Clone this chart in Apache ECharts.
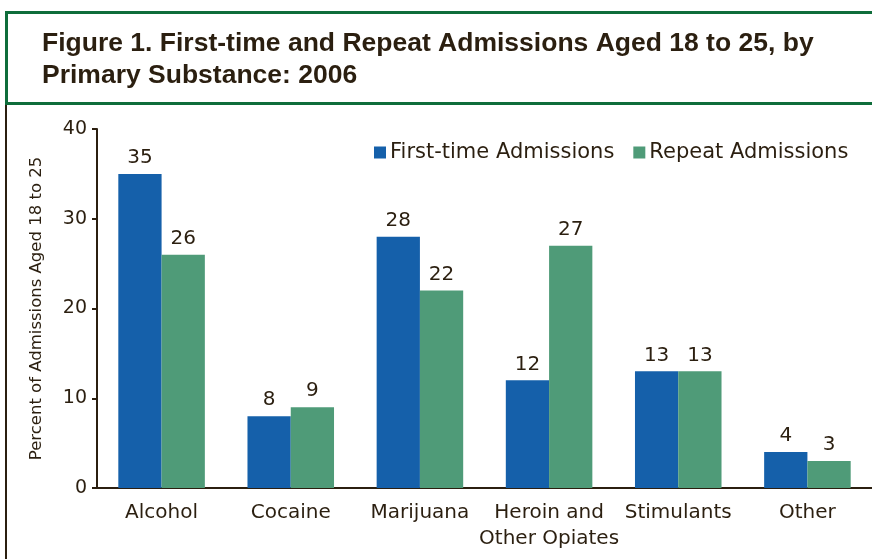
<!DOCTYPE html>
<html>
<head>
<meta charset="utf-8">
<title>First-time and Repeat Admissions Aged 18 to 25</title>
<script src="https://cdn.jsdelivr.net/npm/echarts@6/dist/echarts.min.js"></script>
<style>
  html, body { margin: 0; padding: 0; background: #ffffff; }
  #chart { width: 872px; height: 559px; }
</style>
</head>
<body>
<div id="chart"></div>
<script>
// Primary substance categories
const categories = ['Alcohol', 'Cocaine', 'Marijuana', 'Heroin and\nOther Opiates', 'Stimulants', 'Other'];
// Percent of admissions aged 18 to 25
const firstTime = [35, 8, 28, 12, 13, 4];
const repeat = [26, 9, 22, 27, 13, 3];
const yTicks = { min: 0, max: 40, interval: 10 };

const ink = '#2b1f10';
const frameGreen = '#0f6d3b';
const labelFont = 'DejaVu Sans';

const chart = echarts.init(document.getElementById('chart'), null, { renderer: 'canvas' });

chart.setOption({
  animation: false,
  backgroundColor: '#ffffff',
  title: {
    text: 'Figure 1. First-time and Repeat Admissions Aged 18 to 25, by\nPrimary Substance: 2006',
    left: 37,
    top: 23,
    textStyle: {
      fontFamily: 'Liberation Sans',
      fontWeight: 'bold',
      fontSize: 26.5,
      lineHeight: 32,
      color: ink
    }
  },
  graphic: [
    { type: 'rect', shape: { x: 5, y: 11, width: 870, height: 3 }, style: { fill: frameGreen }, silent: true },
    { type: 'rect', shape: { x: 5, y: 102, width: 870, height: 3 }, style: { fill: frameGreen }, silent: true },
    { type: 'rect', shape: { x: 5, y: 11, width: 3, height: 94 }, style: { fill: frameGreen }, silent: true },
    { type: 'rect', shape: { x: 5, y: 105, width: 2, height: 454 }, style: { fill: ink }, silent: true }
  ],
  legend: {
    left: 369,
    top: 137,
    itemWidth: 12,
    itemHeight: 12,
    itemGap: 19,
    icon: 'rect',
    textStyle: { fontFamily: labelFont, fontSize: 21, color: ink, padding: [0, 0, 0, -1] },
    data: ['First-time Admissions', 'Repeat Admissions']
  },
  grid: { left: 97, right: 0, top: 129, bottom: 71, containLabel: false },
  xAxis: {
    type: 'category',
    data: categories,
    boundaryGap: true,
    axisLine: { show: true, lineStyle: { color: ink, width: 2 } },
    axisTick: { show: false },
    axisLabel: {
      margin: 12,
      interval: 0,
      fontFamily: labelFont,
      fontSize: 20,
      lineHeight: 26,
      color: ink
    }
  },
  yAxis: {
    type: 'value',
    min: yTicks.min,
    max: yTicks.max,
    interval: yTicks.interval,
    name: 'Percent of Admissions Aged 18 to 25',
    nameLocation: 'middle',
    nameRotate: 90,
    nameGap: 52,
    nameTextStyle: { fontFamily: labelFont, fontSize: 16.5, color: ink },
    axisLine: { show: true, lineStyle: { color: ink, width: 2 } },
    axisTick: { show: true, inside: false, length: 5, lineStyle: { color: ink, width: 2 } },
    axisLabel: { margin: 10, fontFamily: labelFont, fontSize: 19, color: ink },
    splitLine: { show: false }
  },
  series: [
    {
      name: 'First-time Admissions',
      type: 'bar',
      data: firstTime,
      barGap: '0%',
      barCategoryGap: '33%',
      itemStyle: { color: '#1560aa' },
      label: { show: true, position: 'top', distance: 6, fontFamily: labelFont, fontSize: 20, color: ink }
    },
    {
      name: 'Repeat Admissions',
      type: 'bar',
      data: repeat,
      barGap: '0%',
      barCategoryGap: '33%',
      itemStyle: { color: '#4f9b78' },
      label: { show: true, position: 'top', distance: 6, fontFamily: labelFont, fontSize: 20, color: ink }
    }
  ]
});
</script>
</body>
</html>
